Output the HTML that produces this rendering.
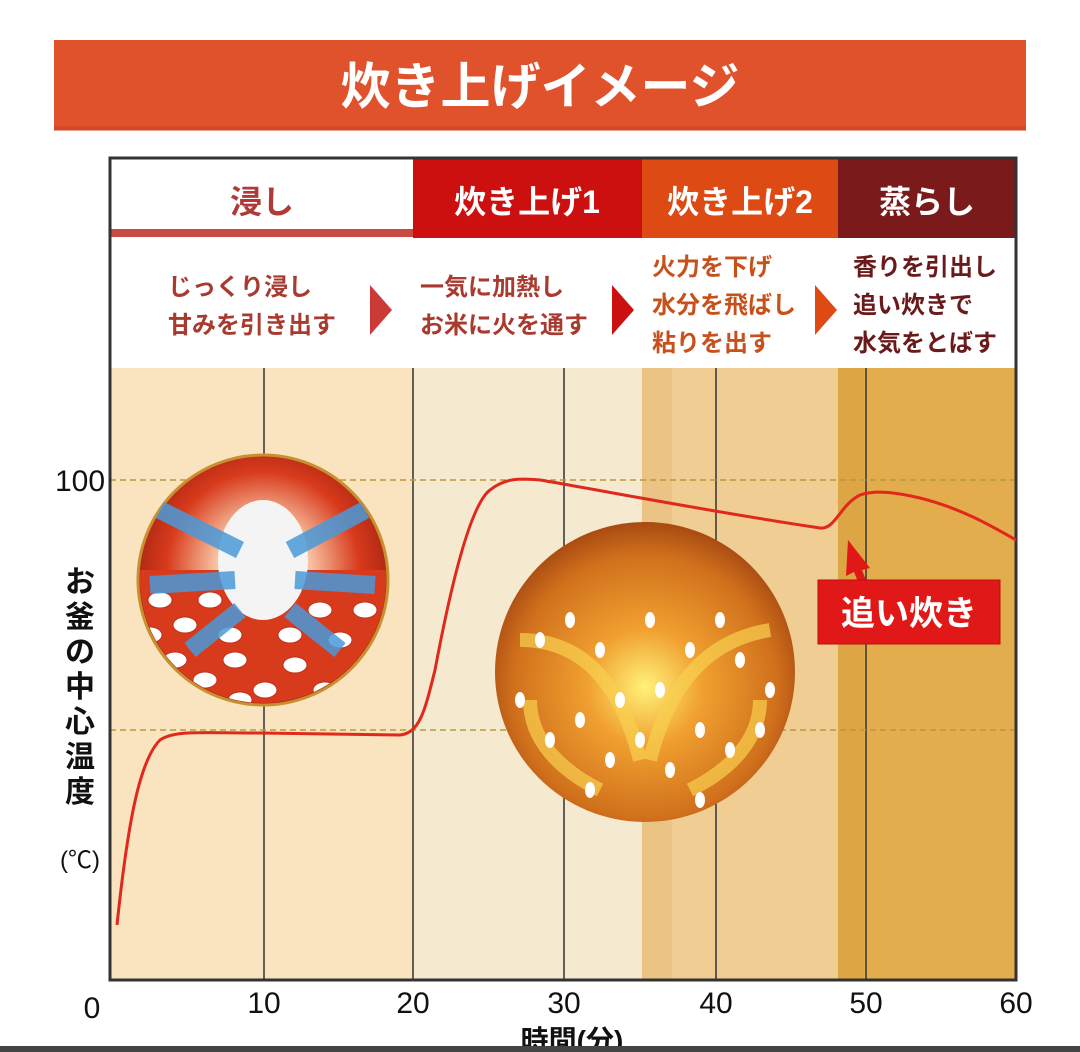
<!DOCTYPE html>
<html><head><meta charset="utf-8"><style>
html,body{margin:0;padding:0;background:#fff;}
body{width:1080px;height:1052px;overflow:hidden;position:relative;}
svg{position:absolute;left:0;top:0;}
text{font-family:"Liberation Sans","Noto Sans CJK JP",sans-serif;}
</style></head><body>
<svg width="1080" height="1052" viewBox="0 0 1080 1052">
<defs>
<radialGradient id="c1" cx="0.5" cy="0.45" r="0.55"><stop offset="0" stop-color="#ffffff"/><stop offset="0.35" stop-color="#f6c0a0"/><stop offset="0.7" stop-color="#d83a1c"/><stop offset="1" stop-color="#a02010"/></radialGradient>
<radialGradient id="c2" cx="0.5" cy="0.55" r="0.55"><stop offset="0" stop-color="#fff27a"/><stop offset="0.35" stop-color="#f0a030"/><stop offset="0.8" stop-color="#d0701c"/><stop offset="1" stop-color="#a84a12"/></radialGradient>
<clipPath id="cl1"><circle cx="263" cy="580" r="123"/></clipPath>
<clipPath id="cl2"><circle cx="645" cy="672" r="148"/></clipPath>
</defs>
<rect x="54" y="40" width="972" height="90" fill="#e0522c"/>
<rect x="54" y="126" width="972" height="5" fill="#c84020" opacity="0.5"/>
<text x="540" y="104" text-anchor="middle" font-size="50" fill="#fff" font-family="Liberation Serif,'Noto Serif CJK SC',serif" font-weight="bold">炊き上げイメージ</text>
<rect x="110" y="158" width="303" height="80" fill="#fff"/>
<rect x="110" y="229" width="303" height="8" fill="#c84a42"/>
<rect x="413" y="158" width="229" height="80" fill="#cc1010"/>
<rect x="642" y="158" width="196" height="80" fill="#de4a14"/>
<rect x="838" y="158" width="178" height="80" fill="#7a1a1a"/>
<text x="262" y="213" text-anchor="middle" font-size="32" font-weight="bold" fill="#b03a38">浸し</text>
<text x="527" y="213" text-anchor="middle" font-size="32" font-weight="bold" fill="#fff">炊き上げ1</text>
<text x="740" y="213" text-anchor="middle" font-size="32" font-weight="bold" fill="#fff">炊き上げ2</text>
<text x="927" y="213" text-anchor="middle" font-size="32" font-weight="bold" fill="#fff">蒸らし</text>
<g font-size="24" fill="#a83a30" font-weight="bold">
<text x="168" y="295">じっくり浸し</text><text x="168" y="333">甘みを引き出す</text>
<text x="420" y="295">一気に加熱し</text><text x="420" y="333">お米に火を通す</text>
</g>
<g font-size="24" fill="#c8501a" font-weight="bold">
<text x="652" y="275">火力を下げ</text><text x="652" y="313">水分を飛ばし</text><text x="652" y="351">粘りを出す</text>
</g>
<g font-size="24" fill="#6a1a1a" font-weight="bold">
<text x="853" y="275">香りを引出し</text><text x="853" y="313">追い炊きで</text><text x="853" y="351">水気をとばす</text>
</g>
<polygon points="370,285 392,310 370,335" fill="#cc3a38"/>
<polygon points="612,285 634,310 612,335" fill="#cc1010"/>
<polygon points="815,285 837,310 815,335" fill="#de4a14"/>
<rect x="110" y="368" width="303" height="612" fill="#fae3bf"/>
<rect x="413" y="368" width="229" height="612" fill="#f5ead0"/>
<rect x="642" y="368" width="196" height="612" fill="#f0cd92"/>
<rect x="642" y="368" width="30" height="612" fill="#eac385"/>
<rect x="838" y="368" width="178" height="612" fill="#e3ac4c"/>
<rect x="838" y="368" width="26" height="612" fill="#dea545"/>
<g stroke="#333" stroke-width="1.5">
<line x1="264" y1="368" x2="264" y2="980"/><line x1="413" y1="368" x2="413" y2="980"/>
<line x1="564" y1="368" x2="564" y2="980"/><line x1="716" y1="368" x2="716" y2="980"/>
<line x1="866" y1="368" x2="866" y2="980"/>
</g>
<g stroke="#b89a40" stroke-width="1.5" stroke-dasharray="6,4">
<line x1="110" y1="480" x2="1016" y2="480"/><line x1="110" y1="730" x2="1016" y2="730"/>
</g>
<rect x="110" y="158" width="906" height="822" fill="none" stroke="#333" stroke-width="3"/>
<circle cx="263" cy="580" r="125" fill="url(#c1)" stroke="#c89030" stroke-width="3"/>
<g clip-path="url(#cl1)" fill="#fff" stroke="#c03020" stroke-width="1">
<rect x="130" y="570" width="270" height="140" fill="#d83a1c" stroke="none"/>
<g>
<ellipse cx="160" cy="600" rx="12" ry="8"/><ellipse cx="185" cy="625" rx="12" ry="8"/><ellipse cx="210" cy="600" rx="12" ry="8"/>
<ellipse cx="175" cy="660" rx="12" ry="8"/><ellipse cx="205" cy="680" rx="12" ry="8"/><ellipse cx="235" cy="660" rx="12" ry="8"/>
<ellipse cx="265" cy="690" rx="12" ry="8"/><ellipse cx="295" cy="665" rx="12" ry="8"/><ellipse cx="325" cy="690" rx="12" ry="8"/>
<ellipse cx="340" cy="640" rx="12" ry="8"/><ellipse cx="365" cy="610" rx="12" ry="8"/><ellipse cx="320" cy="610" rx="12" ry="8"/>
<ellipse cx="230" cy="635" rx="12" ry="8"/><ellipse cx="290" cy="635" rx="12" ry="8"/><ellipse cx="150" cy="635" rx="12" ry="8"/>
<ellipse cx="370" cy="660" rx="12" ry="8"/><ellipse cx="240" cy="700" rx="12" ry="8"/>
</g>
</g>
<ellipse cx="263" cy="560" rx="45" ry="60" fill="#f4f4f4"/>
<g stroke="#4a9ad8" stroke-width="18" opacity="0.85">
<line x1="160" y1="510" x2="240" y2="550"/><line x1="365" y1="510" x2="290" y2="550"/>
<line x1="150" y1="585" x2="235" y2="580"/><line x1="375" y1="585" x2="295" y2="580"/>
<line x1="190" y1="650" x2="240" y2="610"/><line x1="340" y1="650" x2="290" y2="610"/>
</g>
<circle cx="645" cy="672" r="150" fill="url(#c2)"/>
<g clip-path="url(#cl2)">
<g fill="none" stroke="#f8d050" stroke-width="14" opacity="0.7">
<path d="M640,760 C620,680 580,640 520,640"/><path d="M650,760 C670,680 710,640 770,630"/>
<path d="M600,790 C560,770 530,740 530,700"/><path d="M690,790 C730,770 760,740 760,700"/>
</g>
<g fill="#fff">
<ellipse cx="540" cy="640" rx="5" ry="8"/><ellipse cx="570" cy="620" rx="5" ry="8"/><ellipse cx="600" cy="650" rx="5" ry="8"/>
<ellipse cx="620" cy="700" rx="5" ry="8"/><ellipse cx="660" cy="690" rx="5" ry="8"/><ellipse cx="690" cy="650" rx="5" ry="8"/>
<ellipse cx="720" cy="620" rx="5" ry="8"/><ellipse cx="740" cy="660" rx="5" ry="8"/><ellipse cx="770" cy="690" rx="5" ry="8"/>
<ellipse cx="520" cy="700" rx="5" ry="8"/><ellipse cx="550" cy="740" rx="5" ry="8"/><ellipse cx="580" cy="720" rx="5" ry="8"/>
<ellipse cx="610" cy="760" rx="5" ry="8"/><ellipse cx="640" cy="740" rx="5" ry="8"/><ellipse cx="670" cy="770" rx="5" ry="8"/>
<ellipse cx="700" cy="730" rx="5" ry="8"/><ellipse cx="730" cy="750" rx="5" ry="8"/><ellipse cx="760" cy="730" rx="5" ry="8"/>
<ellipse cx="650" cy="620" rx="5" ry="8"/><ellipse cx="590" cy="790" rx="5" ry="8"/><ellipse cx="700" cy="800" rx="5" ry="8"/>
</g>
</g>
<path d="M117,925 C128,820 140,760 160,740 C175,730 200,733 260,733 L400,735 C420,733 425,710 435,670 C450,590 470,505 490,490 C505,478 520,478 540,480 C600,490 700,510 820,528 C835,530 840,505 860,495 C875,490 895,492 920,498 C960,508 990,525 1016,540" fill="none" stroke="#e0281c" stroke-width="3"/>
<polygon points="848,540 870,568 862,570 866,580 858,582 854,572 846,576" fill="#e01818"/>
<rect x="818" y="580" width="182" height="64" fill="#e01818" stroke="#b81010"/>
<text x="909" y="625" text-anchor="middle" font-size="34" font-weight="bold" fill="#fff">追い炊き</text>
<g font-size="30" fill="#111" font-family="Liberation Sans,sans-serif">
<text x="80" y="491" text-anchor="middle">100</text>
<text x="92" y="1018" text-anchor="middle">0</text>
<text x="264" y="1013" text-anchor="middle">10</text>
<text x="413" y="1013" text-anchor="middle">20</text>
<text x="564" y="1013" text-anchor="middle">30</text>
<text x="716" y="1013" text-anchor="middle">40</text>
<text x="866" y="1013" text-anchor="middle">50</text>
<text x="1016" y="1013" text-anchor="middle">60</text>
</g>
<text x="572" y="1050" text-anchor="middle" font-size="28" font-weight="bold" fill="#111">時間(分)</text>
<g font-size="30" font-weight="bold" fill="#111" text-anchor="middle">
<text x="80" y="592">お</text><text x="80" y="627">釜</text><text x="80" y="662">の</text><text x="80" y="697">中</text>
<text x="80" y="732">心</text><text x="80" y="767">温</text><text x="80" y="802">度</text>
<text x="80" y="868" font-size="24" font-weight="normal">(℃)</text>
</g>
<rect x="0" y="1046" width="1080" height="6" fill="#444"/>
</svg>
</body></html>
